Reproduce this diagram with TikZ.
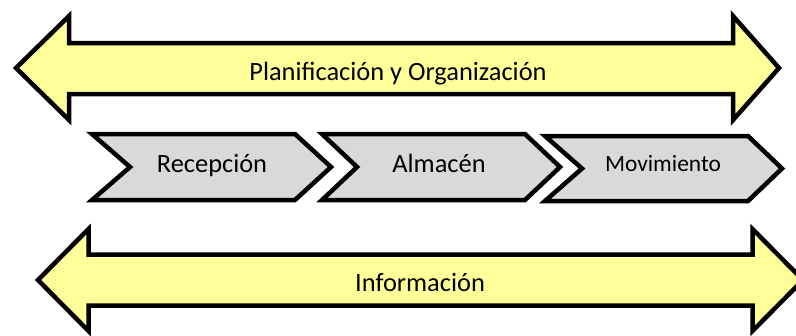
\documentclass[tikz,border=0pt]{standalone}
\usepackage{fontspec}
\setmainfont{Carlito}
\definecolor{amarillo}{HTML}{FFFF99}
\definecolor{gris}{HTML}{D9D9D9}
\begin{document}
\begin{tikzpicture}[x=1bp, y=-1bp,
  flecha/.style={draw=black, line width=4.5bp, fill=amarillo, line join=miter},
  etapa/.style={draw=black, line width=4.5bp, fill=gris, line join=miter},
  rotulo/.style={anchor=base, inner sep=0pt, font=\fontsize{26.5}{30}\selectfont}]
\useasboundingbox (0,0) rectangle (796,335);
\clip (0,0) rectangle (796,335);
% Flecha superior
\draw[flecha] (16,68) -- (69,16) -- (69,43) -- (733,43) -- (733,16) -- (779,68)
  -- (733,120) -- (733,94) -- (69,94) -- (69,120) -- cycle;
\node[rotulo] (plan) at (398,80) {Planificación y Organización};
% Etapas
\draw[etapa] (92,134) -- (295,134) -- (331,167) -- (295,200) -- (92,200) -- (130,167) -- cycle;
\draw[etapa] (322,134) -- (525,134) -- (560,167) -- (525,200) -- (322,200) -- (357,167) -- cycle;
\draw[etapa] (545,136) -- (748,136) -- (782,168.5) -- (748,201) -- (545,201) -- (582,168.5) -- cycle;
\node[rotulo] (recep) at (212,172) {Recepción};
\node[rotulo] (almac) at (439,172) {Almacén};
\node[rotulo, font=\fontsize{23.5}{27}\selectfont] (movim) at (663,171) {Movimiento};
% Flecha inferior
\draw[flecha] (38,280) -- (88.5,229) -- (88.5,254.5) -- (752.5,254.5) -- (752.5,229) -- (803,280)
  -- (752.5,331) -- (752.5,305.5) -- (88.5,305.5) -- (88.5,331) -- cycle;
\node[rotulo] (info) at (420,291) {Información};
\end{tikzpicture}
\end{document}
